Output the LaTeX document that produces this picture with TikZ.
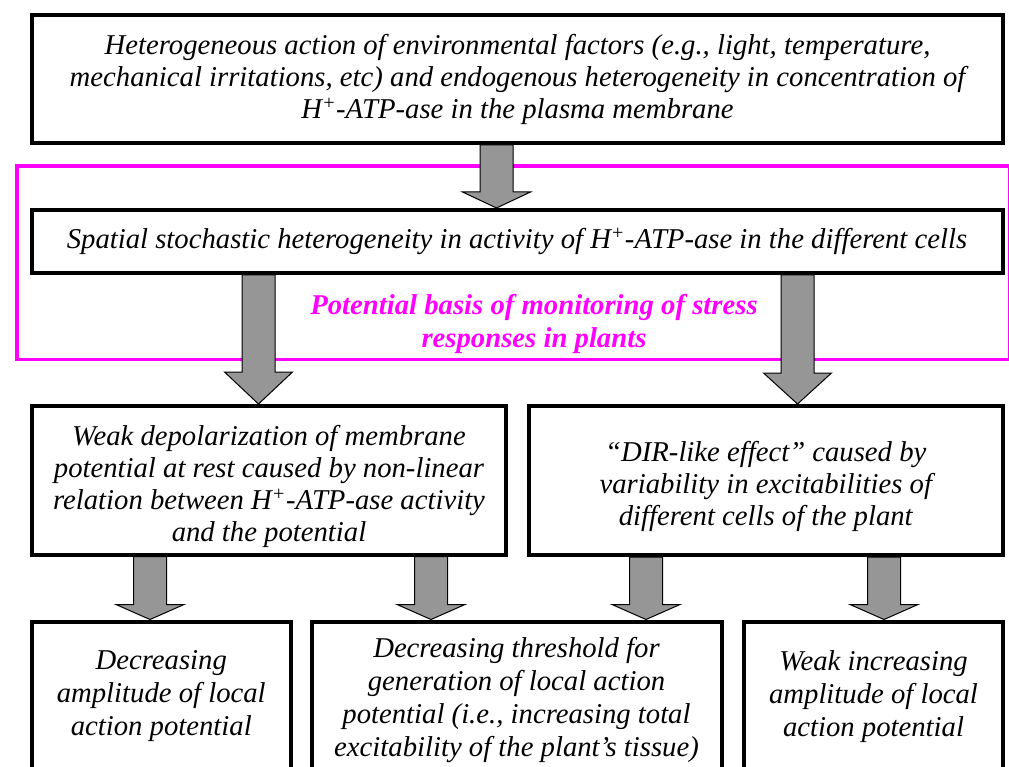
\documentclass[tikz,border=0pt]{standalone}
\usepackage{fontspec}
\setmainfont{Liberation Serif}
\usetikzlibrary{calc}
\definecolor{arrowgray}{RGB}{150,150,150}
\definecolor{mag}{RGB}{255,0,255}
\tikzset{
  box/.style={draw=black, line width=4pt, rectangle, inner sep=0pt},
  txt/.style={align=center, inner sep=0pt, font=\itshape\fontsize{28.7}{32}\selectfont},
  lowtxt/.style={txt, font=\itshape\fontsize{28.7}{33}\selectfont},
  magbox/.style={draw=mag, line width=3.5pt, rectangle, inner sep=0pt},
  maglabel/.style={text=mag, align=center, inner sep=0pt,
    font=\bfseries\itshape\fontsize{28.7}{33}\selectfont},
  bigarrow/.style={draw=black, fill=arrowgray, line width=1pt, line join=miter},
  blockarrow/.style={to path={
    let \p1=(\tikztostart), \p2=(\tikztotarget) in
    (\x1-16.5pt,\y1) -- (\x1+16.5pt,\y1) -- (\x1+16.5pt,\y2+#1)
    -- (\x1+34pt,\y2+#1) -- (\x1,\y2) -- (\x1-34pt,\y2+#1)
    -- (\x1-16.5pt,\y2+#1) -- cycle}}
}
\begin{document}
\begin{tikzpicture}[x=1pt,y=-1pt]
\useasboundingbox (0,0) rectangle (1009,767);
\fill[white] (0,0) rectangle (1009,767);

% magenta zone
\node[magbox, minimum width=992.5, minimum height=193.7] (zone) at (513.25,262.85) {};
\node[maglabel] (zlabel) at (534,324) {Potential basis of monitoring of stress\\responses in plants};

% boxes
\node[box, minimum width=971, minimum height=128] (top) at (517.5,79) {};
\node[txt] (toptext) at (top.center)
  {Heterogeneous action of environmental factors (e.g., light, temperature,\\
   mechanical irritations, etc) and endogenous heterogeneity in concentration of\\
   H\textsuperscript{+}-ATP-ase in the plasma membrane};
\node[box, minimum width=971, minimum height=63] (spatial) at (517,241.5) {};
\node[txt] (spatialtext) at (spatial.center)
  {Spatial stochastic heterogeneity in activity of H\textsuperscript{+}-ATP-ase in the different cells};
\node[box, minimum width=474, minimum height=148.5] (weak) at (269,480.25) {};
\node[txt] (weaktext) at ($(weak.center)+(0,6)$)
  {Weak depolarization of membrane\\potential at rest caused by non-linear\\
   relation between H\textsuperscript{+}-ATP-ase activity\\and the potential};
\node[box, minimum width=473.5, minimum height=149] (dir) at (765.75,480.5) {};
\node[txt] (dirtext) at ($(dir.center)+(0,6)$)
  {“DIR-like effect” caused by\\variability in excitabilities of\\different cells of the plant};
\node[box, minimum width=258.5, minimum height=150] (dec) at (161.25,696.5) {};
\node[lowtxt] (dectext) at (dec.center)
  {Decreasing\\amplitude of local\\action potential};
\node[box, minimum width=410, minimum height=150] (thr) at (516.5,696.5) {};
\node[lowtxt] (thrtext) at ($(thr.center)+(0,3)$)
  {Decreasing threshold for\\generation of local action\\potential (i.e., increasing total\\excitability of the plant’s tissue)};
\node[box, minimum width=259, minimum height=150] (inc) at (873.5,696.5) {};
\node[lowtxt] (inctext) at (inc.center)
  {Weak increasing\\amplitude of local\\action potential};

% arrow columns
\coordinate (c1) at (496.5,0);
\coordinate (c2) at (258.5,0);
\coordinate (c3) at (797.5,0);
\coordinate (c4) at (150,0);
\coordinate (c5) at (431,0);
\coordinate (c6) at (646,0);
\coordinate (c7) at (884,0);

\draw[bigarrow] (top.south -| c1) to[blockarrow=16pt] (spatial.north -| c1);
\draw[bigarrow] (spatial.south -| c2) to[blockarrow=32pt] (weak.north -| c2);
\draw[bigarrow] (spatial.south -| c3) to[blockarrow=31pt] (dir.north -| c3);
\draw[bigarrow] (weak.south -| c4) to[blockarrow=15pt] (dec.north -| c4);
\draw[bigarrow] (weak.south -| c5) to[blockarrow=15pt] (thr.north -| c5);
\draw[bigarrow] (dir.south -| c6) to[blockarrow=15pt] (thr.north -| c6);
\draw[bigarrow] (dir.south -| c7) to[blockarrow=15pt] (inc.north -| c7);
\end{tikzpicture}
\end{document}
